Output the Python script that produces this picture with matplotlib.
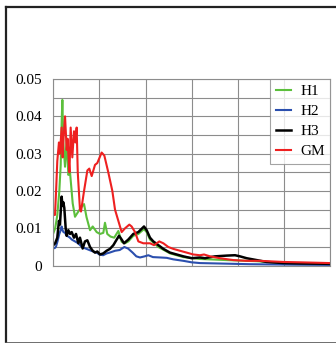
import matplotlib
matplotlib.use("Agg")
import matplotlib.pyplot as plt
from matplotlib.lines import Line2D
from matplotlib.ticker import MultipleLocator

plt.rcParams['font.family'] = ['Liberation Serif', 'DejaVu Serif']

# spectra per component (period, amplitude)
h1_x = [0.0, 0.02, 0.043, 0.065, 0.08, 0.09, 0.098, 0.108, 0.127, 0.145, 0.163, 0.181,
        0.21, 0.235, 0.271, 0.307, 0.333, 0.36, 0.398, 0.427, 0.47, 0.506, 0.542, 0.56,
        0.585, 0.62, 0.66, 0.705, 0.741, 0.777, 0.813, 0.867, 0.922, 0.983, 1.012, 1.048,
        1.139, 1.265, 1.41, 1.59, 1.88, 2.205, 2.5, 3.0]
h1_y = [0.0087, 0.010, 0.0135, 0.020, 0.027, 0.038, 0.0444, 0.033, 0.0265, 0.0337, 0.0243, 0.025,
        0.0167, 0.0131, 0.0145, 0.0158, 0.0165, 0.013, 0.0095, 0.0105, 0.009, 0.0085, 0.0088, 0.0115,
        0.0085, 0.0078, 0.0075, 0.0093, 0.0064, 0.006, 0.0065, 0.008, 0.0085, 0.0098, 0.009, 0.007,
        0.005, 0.0033, 0.0023, 0.0018, 0.0015, 0.0012, 0.0007, 0.0005]

h2_x = [0.0, 0.02, 0.03, 0.045, 0.065, 0.08, 0.09, 0.1, 0.11, 0.127, 0.145, 0.163, 0.18,
        0.2, 0.235, 0.27, 0.31, 0.36, 0.41, 0.47, 0.5, 0.54, 0.58, 0.61, 0.67, 0.72, 0.77,
        0.81, 0.86, 0.9, 0.94, 0.99, 1.03, 1.08, 1.16, 1.23, 1.3, 1.41, 1.5, 1.59, 1.77,
        1.95, 2.13, 2.5, 3.0]
h2_y = [0.0046, 0.0048, 0.0052, 0.0065, 0.0085, 0.0095, 0.0105, 0.0095, 0.009, 0.0088, 0.008,
        0.0078, 0.0075, 0.007, 0.0065, 0.006, 0.005, 0.0045, 0.004, 0.0035, 0.003, 0.0028, 0.0033,
        0.0035, 0.004, 0.0042, 0.005, 0.0046, 0.0035, 0.0025, 0.0022, 0.0025, 0.0028, 0.0023,
        0.0022, 0.0021, 0.0017, 0.0013, 0.0009, 0.0007, 0.0006, 0.0005, 0.0004, 0.0003, 0.0002]

h3_x = [0.0, 0.02, 0.043, 0.061, 0.072, 0.09, 0.1, 0.108, 0.119, 0.134, 0.145, 0.163, 0.181,
        0.199, 0.224, 0.246, 0.271, 0.289, 0.318, 0.343, 0.369, 0.398, 0.427, 0.452, 0.477,
        0.506, 0.542, 0.578, 0.614, 0.651, 0.687, 0.712, 0.741, 0.766, 0.813, 0.867, 0.922,
        0.983, 1.012, 1.048, 1.084, 1.139, 1.193, 1.265, 1.337, 1.41, 1.5, 1.59, 1.645, 1.681,
        1.753, 1.88, 1.97, 2.024, 2.096, 2.205, 2.313, 2.494, 2.675, 3.0]
h3_y = [0.0055, 0.006, 0.0075, 0.012, 0.011, 0.0185, 0.016, 0.017, 0.0155, 0.010, 0.008, 0.0095,
        0.0085, 0.009, 0.0075, 0.0085, 0.006, 0.0075, 0.0046, 0.0065, 0.0068, 0.005, 0.004, 0.0035,
        0.0038, 0.003, 0.0033, 0.004, 0.0045, 0.0055, 0.007, 0.008, 0.007, 0.006, 0.007, 0.0085,
        0.009, 0.0105, 0.0095, 0.0075, 0.0065, 0.0055, 0.0045, 0.0035, 0.003, 0.0025, 0.002, 0.0022,
        0.002, 0.0022, 0.0025, 0.0027, 0.0028, 0.0025, 0.002, 0.0015, 0.001, 0.0007, 0.0006, 0.0005]

gm_x = [0.0, 0.018, 0.03, 0.043, 0.061, 0.072, 0.09, 0.101, 0.11, 0.127, 0.145, 0.155, 0.163,
        0.175, 0.188, 0.206, 0.224, 0.239, 0.253, 0.265, 0.289, 0.3, 0.333, 0.369, 0.39, 0.416,
        0.452, 0.477, 0.524, 0.553, 0.596, 0.64, 0.669, 0.705, 0.741, 0.777, 0.824, 0.849, 0.886,
        0.922, 0.976, 1.048, 1.092, 1.149, 1.193, 1.247, 1.301, 1.373, 1.446, 1.518, 1.59, 1.634,
        1.699, 1.807, 1.952, 2.096, 2.241, 2.494, 2.675, 3.0]
gm_y = [0.0136, 0.0136, 0.020, 0.028, 0.033, 0.030, 0.037, 0.029, 0.034, 0.040, 0.031, 0.034,
        0.030, 0.025, 0.037, 0.029, 0.036, 0.033, 0.037, 0.025, 0.015, 0.0145, 0.020, 0.0255, 0.026,
        0.024, 0.027, 0.0275, 0.0303, 0.0295, 0.025, 0.020, 0.015, 0.012, 0.009, 0.010, 0.011,
        0.0105, 0.009, 0.0065, 0.006, 0.006, 0.0055, 0.0065, 0.006, 0.005, 0.0045, 0.004, 0.0035,
        0.003, 0.0028, 0.003, 0.0025, 0.002, 0.0015, 0.0013, 0.0013, 0.001, 0.0009, 0.0007]

y_ticks = [0, 0.01, 0.02, 0.03, 0.04, 0.05]
y_labels = ['0', '0.01', '0.02', '0.03', '0.04', '0.05']

fig = plt.figure(figsize=(3.36, 3.43), dpi=100)
ax = fig.add_axes([0.1587, 0.2254, 0.8235, 0.5443])

ax.plot(h1_x, h1_y, color='#5cbf3c', lw=1.5, label='H1')
ax.plot(h2_x, h2_y, color='#2b4fae', lw=1.5, label='H2')
ax.plot(h3_x, h3_y, color='black', lw=1.8, label='H3')
ax.plot(gm_x, gm_y, color='#ee2020', lw=1.5, label='GM')

ax.set_xlim(0, 3)
ax.set_ylim(0, 0.05)
ax.xaxis.set_major_locator(MultipleLocator(0.5))
ax.set_xticklabels([])
ax.set_yticks(y_ticks)
ax.set_yticklabels(y_labels)
ax.yaxis.set_minor_locator(MultipleLocator(0.005))
ax.tick_params(axis='both', which='both', length=0, labelsize=11, pad=8)
ax.grid(True, which='both', color='#8c8c8c', lw=0.8)
ax.set_axisbelow(True)
for s in ax.spines.values():
    s.set_color('#8c8c8c')
    s.set_linewidth(0.8)

leg = ax.legend(loc='upper right', bbox_to_anchor=(1.0, 1.0), borderaxespad=0,
                fontsize=11, frameon=True, fancybox=False, edgecolor='#8c8c8c',
                handlelength=1.0, handletextpad=0.6, labelspacing=0.42,
                borderpad=0.35)
leg.get_frame().set_linewidth(0.8)

# page frame around the figure
fig.add_artist(Line2D([6 / 336, 6 / 336], [0, 1 - 7 / 343], color='#222222', lw=1.6))
fig.add_artist(Line2D([6 / 336, 1], [1 - 7 / 343, 1 - 7 / 343], color='#222222', lw=1.6))
fig.add_artist(Line2D([6 / 336, 1], [0.5 / 343, 0.5 / 343], color='#555555', lw=1.2))

fig.savefig('out.png', dpi=100)
